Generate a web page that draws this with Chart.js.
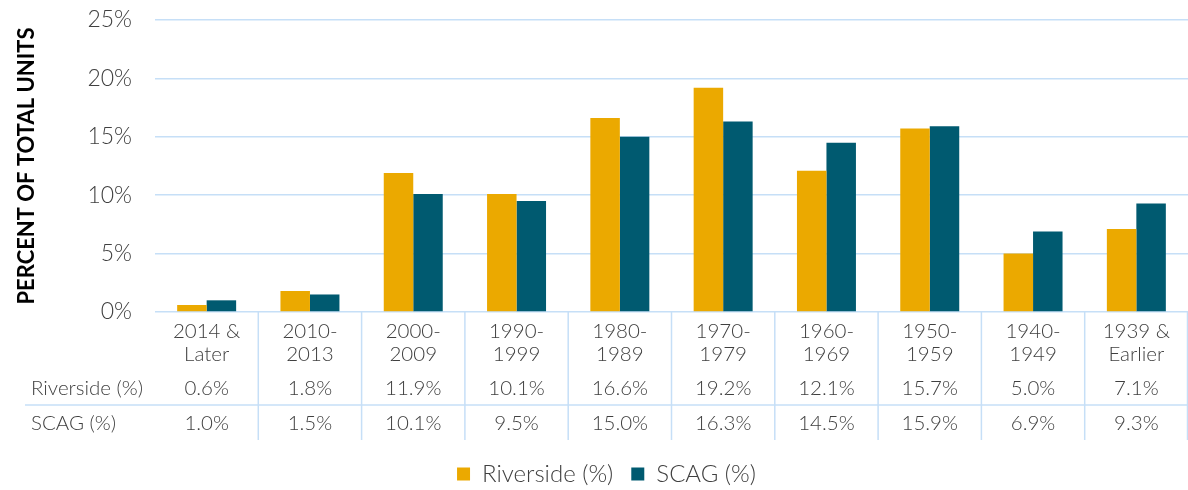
<!DOCTYPE html>
<html>
<head>
<meta charset="utf-8">
<script src="https://cdn.jsdelivr.net/npm/chart.js@4"></script>
<style>
  html, body { margin: 0; padding: 0; background: #fff; }
  #wrap { width: 1188px; height: 490px; }
</style>
</head>
<body>
<div id="wrap"><canvas id="c" width="1188" height="490"></canvas></div>
<script>
const categories = [["2014 &", "Later"], ["2010-", "2013"], ["2000-", "2009"], ["1990-", "1999"], ["1980-", "1989"], ["1970-", "1979"], ["1960-", "1969"], ["1950-", "1959"], ["1940-", "1949"], ["1939 &", "Earlier"]];
const riverside = [0.6, 1.8, 11.9, 10.1, 16.6, 19.2, 12.1, 15.7, 5.0, 7.1];
const scag = [1.0, 1.5, 10.1, 9.5, 15.0, 16.3, 14.5, 15.9, 6.9, 9.3];
const seriesNames = ["Riverside (%)", "SCAG (%)"];
const yTicks = [0, 5, 10, 15, 20, 25];

const ORANGE = '#EBA900';
const TEAL = '#005A70';
const GRID = '#C6DFF7';
const TEXT = '#404040';
const FONT = 'Lato';

const tablePlugin = {
  id: 'dataTable',
  afterDraw(chart) {
    const ctx = chart.ctx;
    const x = chart.scales.x;
    const area = chart.chartArea;
    const rows = [riverside, scag];
    const rowY = [388, 423];
    ctx.save();
    ctx.strokeStyle = GRID;
    ctx.lineWidth = 1.5;
    ctx.beginPath();
    for (let i = 0; i < categories.length; i++) {
      const bx = i < categories.length - 1
        ? (x.getPixelForValue(i) + x.getPixelForValue(i + 1)) / 2
        : area.right - 0.5;
      ctx.moveTo(bx, area.bottom);
      ctx.lineTo(bx, 440);
    }
    ctx.moveTo(25, 405);
    ctx.lineTo(area.right, 405);
    ctx.stroke();
    ctx.fillStyle = TEXT;
    ctx.font = '300 20.5px ' + FONT;
    ctx.textBaseline = 'middle';
    ctx.textAlign = 'left';
    seriesNames.forEach((n, r) => ctx.fillText(n, 31, rowY[r]));
    ctx.textAlign = 'center';
    rows.forEach((vals, r) => {
      vals.forEach((v, i) => {
        ctx.fillText(v.toFixed(1) + '%', x.getPixelForValue(i), rowY[r]);
      });
    });
    ctx.restore();
  }
};

new Chart(document.getElementById('c'), {
  type: 'bar',
  data: {
    labels: categories,
    datasets: [
      { label: seriesNames[0], data: riverside, backgroundColor: ORANGE },
      { label: seriesNames[1], data: scag, backgroundColor: TEAL }
    ]
  },
  options: {
    responsive: false,
    animation: false,
    devicePixelRatio: 1,
    layout: { padding: { top: 20, left: 25, right: 0, bottom: -6 } },
    datasets: { bar: { categoryPercentage: 0.571, barPercentage: 1.0 } },
    plugins: {
      tooltip: { enabled: false },
      legend: {
        position: 'bottom',
        labels: {
          boxWidth: 13, boxHeight: 13, padding: 18,
          color: TEXT,
          font: { family: FONT, size: 24, weight: '300' }
        }
      }
    },
    scales: {
      x: {
        offset: true,
        grid: { display: false },
        border: { display: false },
        ticks: {
          color: TEXT,
          padding: 0,
          maxRotation: 0,
          autoSkip: false,
          font: { family: FONT, size: 20.5, weight: '300', lineHeight: 1.12 }
        },
        afterFit(scale) { scale.height = 132; }
      },
      y: {
        min: 0, max: 25,
        afterBuildTicks(scale) { scale.ticks = yTicks.map(v => ({ value: v })); },
        grid: { color: GRID, lineWidth: 1.5, drawTicks: false },
        border: { display: false },
        ticks: {
          color: TEXT,
          padding: 23,
          font: { family: FONT, size: 23, weight: '300' },
          callback: v => v + '%'
        },
        title: {
          display: true,
          text: 'PERCENT OF TOTAL UNITS',
          color: '#000',
          padding: { top: -11, bottom: 0 },
          font: { family: FONT, size: 22, weight: 'bold' }
        },
        afterFit(scale) { scale.width = 130; scale.paddingTop = 0; scale.paddingBottom = 0; }
      }
    }
  },
  plugins: [tablePlugin]
});
</script>
</body>
</html>
